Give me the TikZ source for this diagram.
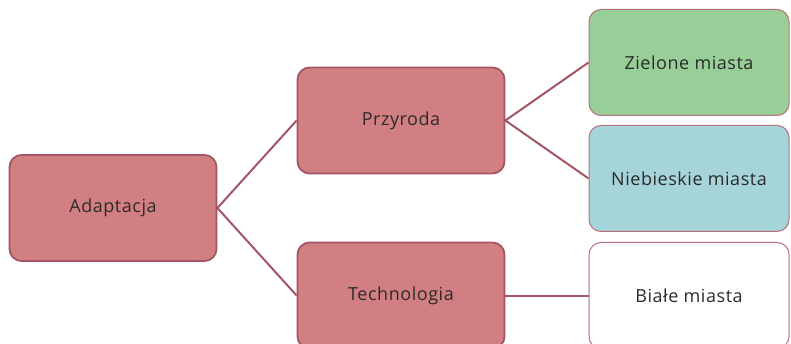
\documentclass[tikz,border=0pt]{standalone}
\usepackage{fontspec}
\setmainfont{Open Sans}[LetterSpace=3]
\usepackage{xcolor}
\usetikzlibrary{trees}
\definecolor{topicfill}{HTML}{D27F84}
\definecolor{topicline}{HTML}{A35563}
\definecolor{leafline}{HTML}{B8707A}
\definecolor{greenfill}{HTML}{98CF98}
\definecolor{bluefill}{HTML}{A5D4DB}
\definecolor{textgray}{HTML}{2B2B2B}
\tikzset{leaf/.style={line width=1pt, draw=leafline, minimum width=200pt}}

\begin{document}
\begin{tikzpicture}[x=1pt, y=1pt, grow'=right, level distance=288pt,
					every node/.style={draw=topicline, fill=topicfill, rounded corners=12pt,
						line width=1.8pt, minimum width=207pt, minimum height=106pt,
						text=textgray, font=\fontsize{18}{21}\selectfont},
					edge from parent/.style={draw=topicline, line width=2pt},
					parent anchor=east, child anchor=west,
					level 1/.style={sibling distance=175pt},
					level 2/.style={sibling distance=116pt}]
				\useasboundingbox (0,0) rectangle (791,-344);
				\node (adaptacja) at (113,-208) {Adaptacja}
				child { node (przyroda) {Przyroda}
						child { node[leaf, fill=greenfill] (zielone) {Zielone miasta} }
						child { node[leaf, fill=bluefill] (niebieskie) {Niebieskie miasta} } }
				child { node (technologia) {Technologia}
						child { node[leaf, fill=white] (biale) {Białe miasta} } };
			\end{tikzpicture}
\end{document}
